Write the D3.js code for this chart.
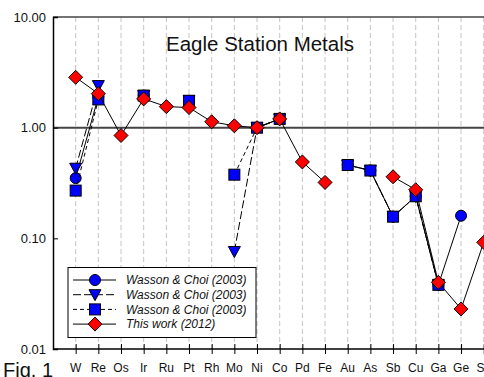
<!DOCTYPE html>
<html>
<head>
<meta charset="utf-8">
<script src="https://cdn.jsdelivr.net/npm/d3@7"></script>
<style>
  html, body { margin: 0; padding: 0; background: #fff; overflow: hidden; }
  svg { display: block; font-family: "Liberation Sans", Arial, sans-serif; }
</style>
</head>
<body>
<svg id="chart" width="484" height="377"></svg>
<script>
// Elements, in plotting order (CI-normalised abundances)
const elements = ["W","Re","Os","Ir","Ru","Pt","Rh","Mo","Ni","Co","Pd","Fe","Au","As","Sb","Cu","Ga","Ge","Sn"];

// Wasson & Choi (2003) - three analyses; null = not determined
const wassonA = [0.35, 1.9, null, 1.95, null, 1.75, null, null, 1.0, 1.2, null, null, 0.46, 0.41, 0.157, 0.24, 0.038, 0.16, null];
const wassonB = [0.43, 2.4, null, 1.95, null, 1.75, null, 0.076, 1.0, 1.2, null, null, 0.46, 0.41, 0.157, 0.24, 0.038, null, null];
const wassonC = [0.27, 1.8, null, 1.95, null, 1.75, null, 0.376, 1.0, 1.2, null, null, 0.46, 0.41, 0.157, 0.24, 0.038, null, null];
// This work (2012)
const thisWork = [2.85, 2.03, 0.85, 1.82, 1.55, 1.52, 1.13, 1.04, 1.0, 1.2, 0.49, 0.32, null, null, 0.36, 0.275, 0.04, 0.023, 0.092];

const yTicks = [0.01, 0.1, 1, 10];

const svg = d3.select("#chart");
const plotLeft = 53, plotTop = 17, plotBottom = 349;
const step = 22.67;

const x = d3.scalePoint().domain(elements).range([plotLeft, plotLeft + 20 * step]).padding(1);
const y = d3.scaleLog().domain([0.01, 10]).range([plotBottom, plotTop]);

// vertical dashed grid at each element
svg.append("g").selectAll("line").data(elements).join("line")
  .attr("x1", d => x(d)).attr("x2", d => x(d))
  .attr("y1", plotTop).attr("y2", plotBottom)
  .attr("stroke", "#c4c4c4").attr("stroke-width", 1)
  .attr("stroke-dasharray", "5,3");

// frame: top border and the unity reference line
svg.append("line").attr("x1", plotLeft).attr("x2", 484).attr("y1", y(10)).attr("y2", y(10))
  .attr("stroke", "#444").attr("stroke-width", 1.5);
svg.append("line").attr("x1", plotLeft).attr("x2", 484).attr("y1", y(1)).attr("y2", y(1))
  .attr("stroke", "#444").attr("stroke-width", 2);

// y axis
const yAxis = svg.append("g").attr("transform", `translate(${plotLeft},0)`)
  .call(d3.axisRight(y).tickValues(yTicks).tickSize(5).tickFormat(""));
yAxis.select(".domain").attr("stroke", "#000").attr("stroke-width", 1.5);
yAxis.selectAll(".tick line").attr("stroke", "#000");
svg.append("g").selectAll("text").data(yTicks).join("text")
  .attr("x", 46).attr("y", d => y(d)).attr("dy", "0.36em")
  .attr("text-anchor", "end").attr("font-size", 13).attr("fill", "#111")
  .text(d => d3.format(".2f")(d));

// x axis with ticks crossing the baseline
const xAxis = svg.append("g").attr("transform", `translate(0,${plotBottom})`)
  .call(d3.axisBottom(x).tickSize(5).tickSizeOuter(0).tickFormat(""));
xAxis.select(".domain").attr("stroke", "#000").attr("stroke-width", 1.5)
  .attr("d", `M${plotLeft},0H${plotLeft + 20 * step}`);
xAxis.selectAll(".tick line").attr("y1", -5).attr("y2", 5).attr("stroke", "#000");
svg.append("g").selectAll("text").data(elements).join("text")
  .attr("x", d => x(d)).attr("y", 372)
  .attr("text-anchor", "middle").attr("font-size", 12).attr("fill", "#111")
  .text(d => d);

svg.append("text").attr("x", 3).attr("y", 377).attr("font-size", 20).attr("fill", "#111").text("Fig. 1");

svg.append("text").attr("x", 166).attr("y", 51).attr("font-size", 20.5).attr("fill", "#111")
  .text("Eagle Station Metals");

// marker shapes
const shapes = {
  circle: g => g.append("circle").attr("r", 5.5),
  triangle: g => g.append("path").attr("d", "M-6,-5L6,-5L0,6Z"),
  square: g => g.append("rect").attr("x", -5.5).attr("y", -5.5).attr("width", 11).attr("height", 11),
  diamond: g => g.append("path").attr("d", "M0,-7L7,0L0,7L-7,0Z")
};

const series = [
  { name: "Wasson & Choi (2003)", values: wassonA, shape: "circle", fill: "#0000ff", dash: null },
  { name: "Wasson & Choi (2003)", values: wassonB, shape: "triangle", fill: "#0000ff", dash: "8,3" },
  { name: "Wasson & Choi (2003)", values: wassonC, shape: "square", fill: "#0000ff", dash: "4,3" },
  { name: "This work (2012)", values: thisWork, shape: "diamond", fill: "#ff0000", dash: null }
];

const line = d3.line()
  .defined(d => d.v != null)
  .x(d => x(d.e)).y(d => y(d.v));

series.forEach(s => {
  const pts = elements.map((e, i) => ({ e, v: s.values[i] }));
  svg.append("path").datum(pts).attr("d", line)
    .attr("fill", "none").attr("stroke", "#000").attr("stroke-width", 1)
    .attr("stroke-dasharray", s.dash);
  svg.append("g").selectAll("g").data(pts.filter(d => d.v != null)).join("g")
    .attr("transform", d => `translate(${x(d.e)},${y(d.v)})`)
    .each(function () {
      shapes[s.shape](d3.select(this)).attr("fill", s.fill).attr("stroke", "#000").attr("stroke-width", 1);
    });
});

// legend
const lg = svg.append("g");
lg.append("rect").attr("x", 68).attr("y", 267.5).attr("width", 188).attr("height", 70)
  .attr("fill", "#fff").attr("stroke", "#000").attr("stroke-width", 1);
series.forEach((s, i) => {
  const yy = 280 + i * 14.7;
  lg.append("line").attr("x1", 73).attr("x2", 116).attr("y1", yy).attr("y2", yy)
    .attr("stroke", "#000").attr("stroke-width", 1).attr("stroke-dasharray", s.dash);
  const m = lg.append("g").attr("transform", `translate(95,${yy})`);
  shapes[s.shape](m).attr("fill", s.fill).attr("stroke", "#000").attr("stroke-width", 1);
  lg.append("text").attr("x", 126).attr("y", yy).attr("dy", "0.36em")
    .attr("font-size", 12).attr("font-style", "italic").attr("fill", "#111").text(s.name);
});
</script>
</body>
</html>
